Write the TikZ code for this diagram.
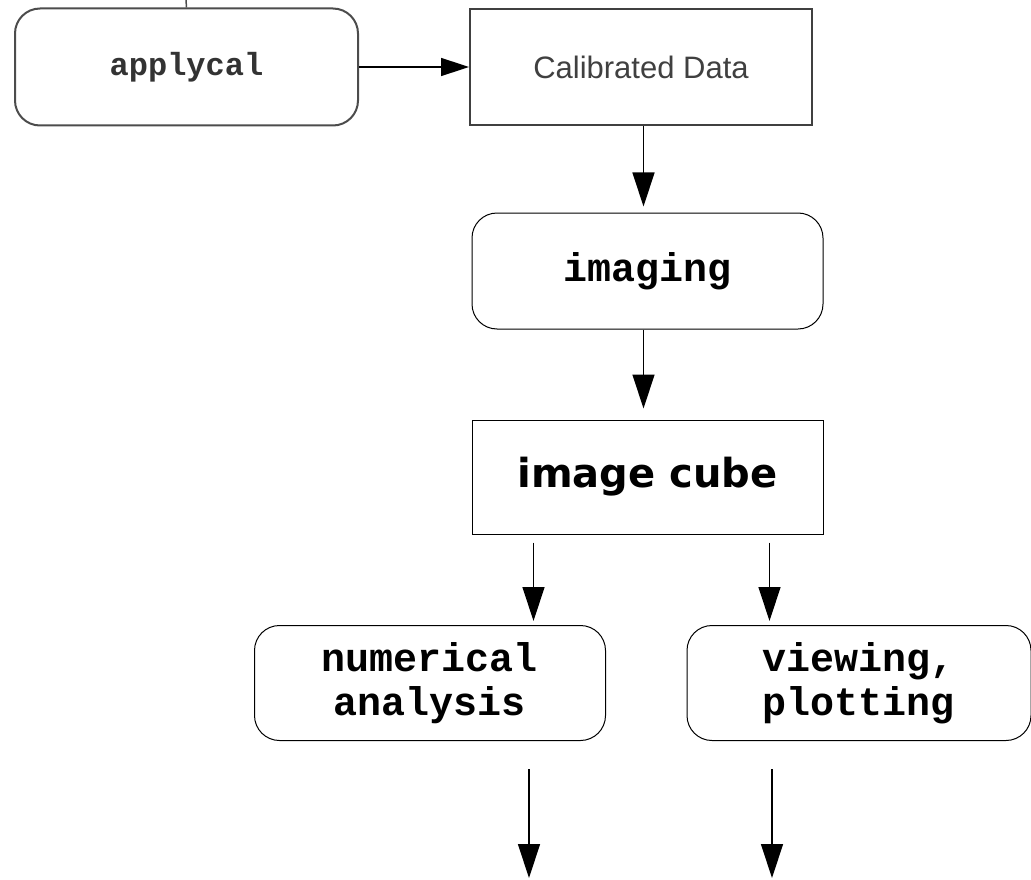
\documentclass[tikz,border=0pt]{standalone}
\usepackage{fontspec}
\setmainfont{Liberation Sans}
\newfontfamily\codefont{Liberation Mono}
\newfontfamily\labelfont{DejaVu Sans}
\usetikzlibrary{shapes.geometric, arrows.meta}
\tikzstyle{taskbox} = [rectangle, rounded corners=25pt, minimum width=351pt, minimum height=116pt, inner sep=0pt, text centered, align=center, draw=black, line width=1pt, font=\codefont\bfseries\fontsize{40}{44}\selectfont]
\tikzstyle{databox} = [rectangle, minimum width=351pt, minimum height=114pt, inner sep=0pt, text centered, draw=black, line width=1pt]
\tikzstyle{arrow} = [line width=1.3pt, -{Triangle[length=34pt,width=22pt]}]

\begin{document}
\begin{tikzpicture}[x=1pt, y=1pt, node distance=204pt]
        \useasboundingbox (0,0) rectangle (1031,-880);
        \node (applycal) [taskbox, minimum width=343pt, minimum height=117pt, draw=black!70, line width=2pt, text=black!80, font=\codefont\bfseries\fontsize{32}{36}\selectfont] at (186.5,-67) {applycal};
        \node (calib) [databox, minimum width=342pt, minimum height=116pt, draw=black!75, line width=2pt, text=black!75, font=\fontsize{31}{36}\selectfont] at (641,-67) {Calibrated Data};
        \node (imaging) [taskbox, below of=calib, xshift=6.5pt] {imaging};
        \node (cube) [databox, node distance=206pt, below of=imaging, font=\labelfont\bfseries\fontsize{40}{48}\selectfont] {image cube};
        \node (numerical) [taskbox, minimum height=115pt] at (430,-683) {numerical\\analysis};
        \node (viewing) [taskbox, minimum width=344pt, minimum height=115pt] at (859,-683) {viewing,\\plotting};
        \coordinate (fromabove) at (186,0);
        \coordinate (numend) at (529,-878);
        \coordinate (viewend) at (772,-878);

        \draw [line width=1.5pt, black!70] (fromabove) -- (applycal.north);
        \draw [arrow, line width=1.5pt, -{Triangle[length=28pt,width=18pt]}] (applycal) -- (calib);
        \draw [arrow, shorten >=6pt] ([xshift=-4pt]imaging.north |- calib.south) -- ([xshift=-4pt]imaging.north);
        \draw [arrow, shorten >=11pt] ([xshift=-4pt]imaging.south) -- ([xshift=-4pt]cube.north);
        \draw [arrow, shorten <=8pt, shorten >=4pt] ([xshift=-114pt]cube.south) -- ([xshift=-114pt]cube.south |- numerical.north);
        \draw [arrow, shorten <=8pt, shorten >=4pt] ([xshift=122pt]cube.south) -- ([xshift=122pt]cube.south |- viewing.north);
        \draw [arrow, shorten <=28pt] (numerical.south -| numend) -- (numend);
        \draw [arrow, shorten <=28pt] (viewing.south -| viewend) -- (viewend);
    \end{tikzpicture}
\end{document}
